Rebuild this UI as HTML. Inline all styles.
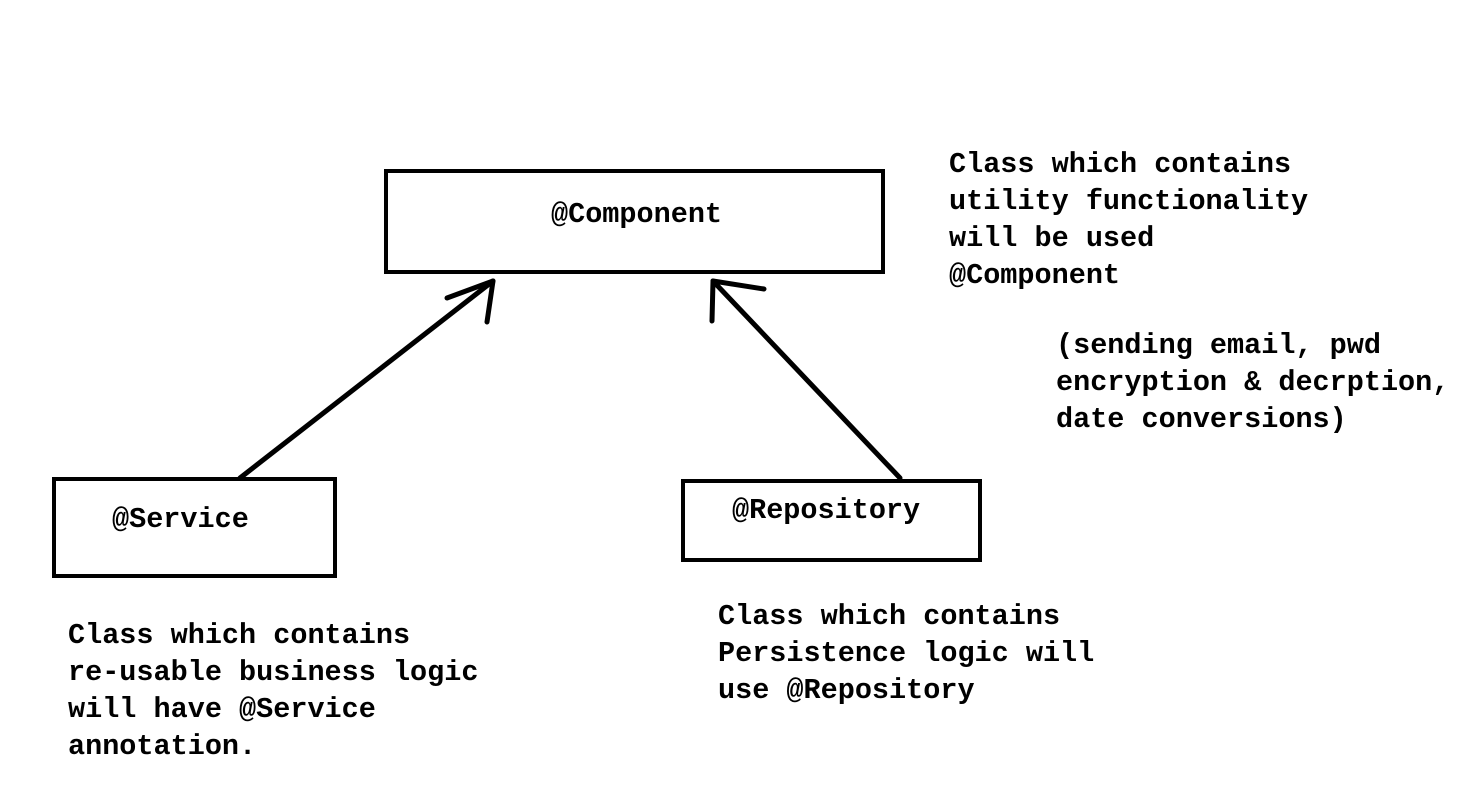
<!DOCTYPE html>
<html><head><meta charset="utf-8"><style>
html,body{margin:0;padding:0;background:#fff;}
body{width:1471px;height:805px;position:relative;overflow:hidden;}
.t{position:absolute;font-family:"Liberation Mono",monospace;font-weight:bold;font-size:28.5px;line-height:37px;color:#000;white-space:pre;}
.b{position:absolute;border:4px solid #000;box-sizing:border-box;}
</style></head><body>
<div class="b" style="left:384px;top:169px;width:501px;height:105px;"></div>
<div class="b" style="left:52px;top:477px;width:285px;height:101px;"></div>
<div class="b" style="left:681px;top:479px;width:301px;height:83px;"></div>
<svg width="1471" height="805" style="position:absolute;left:0;top:0">
<g stroke="#000" stroke-width="5" fill="none" stroke-linecap="round">
<line x1="240" y1="478" x2="493" y2="281"/>
<line x1="447" y1="298" x2="493" y2="281"/>
<line x1="493" y1="281" x2="487" y2="322"/>
<line x1="900" y1="478" x2="713" y2="281"/>
<line x1="713" y1="281" x2="764" y2="289"/>
<line x1="713" y1="281" x2="712" y2="321"/>
</g></svg>
<div class="t" style="left:551px;top:196px;">@Component</div>
<div class="t" style="left:112px;top:501px;">@Service</div>
<div class="t" style="left:732px;top:492px;">@Repository</div>
<div class="t" style="left:949px;top:146px;">Class which contains
utility functionality
will be used
@Component</div>
<div class="t" style="left:1056px;top:327px;">(sending email, pwd
encryption &amp; decrption,
date conversions)</div>
<div class="t" style="left:68px;top:617px;">Class which contains
re-usable business logic
will have @Service
annotation.</div>
<div class="t" style="left:718px;top:598px;">Class which contains
Persistence logic will
use @Repository</div>
</body></html>
